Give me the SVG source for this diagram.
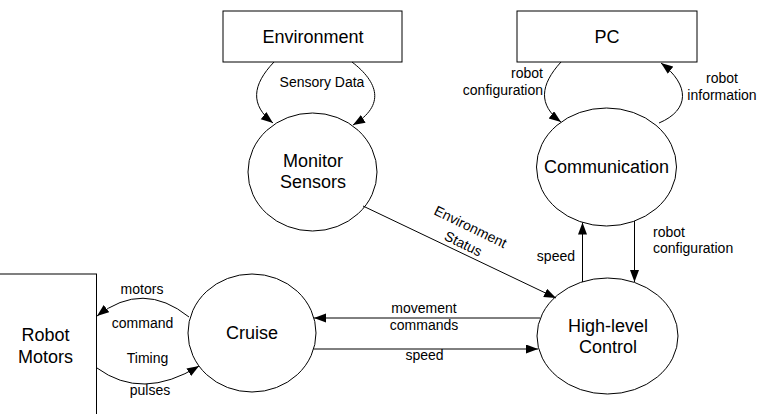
<svg xmlns="http://www.w3.org/2000/svg" width="760" height="414" viewBox="0 0 760 414">
<style>
.box{fill:#fff;stroke:#000;stroke-width:1}
.node{fill:#fff;stroke:#000;stroke-width:1}
.nt{font-family:"Liberation Sans",Arial,sans-serif;font-size:18px;fill:#000;text-anchor:middle}
.lb{font-family:"Liberation Sans",Arial,sans-serif;font-size:14px;fill:#000}
.c{fill:none;stroke:#000;stroke-width:1;marker-end:url(#ah)}
</style>
<defs>
<marker id="ah" markerUnits="userSpaceOnUse" markerWidth="13" markerHeight="10" refX="12" refY="4.5" orient="auto">
<path d="M0,0 L12,4.5 L0,9 z" fill="#000"/>
</marker>
</defs>
<rect width="760" height="414" fill="#fff"/>
<g id="environment">
<rect class="box" x="223" y="11" width="179" height="51"/>
<text class="nt" x="313" y="43">Environment</text>
</g>
<g id="pc">
<rect class="box" x="517" y="11" width="180" height="51"/>
<text class="nt" x="607" y="43">PC</text>
</g>
<g id="monitor-sensors">
<ellipse class="node" cx="312.5" cy="172" rx="64.5" ry="59"/>
<text class="nt" x="313" y="167">Monitor</text>
<text class="nt" x="313" y="188">Sensors</text>
</g>
<g id="communication">
<ellipse class="node" cx="606.5" cy="167" rx="70" ry="59"/>
<text class="nt" x="606.5" y="173">Communication</text>
</g>
<g id="high-level-control">
<ellipse class="node" cx="607.5" cy="336" rx="70.5" ry="58"/>
<text class="nt" x="608" y="332">High-level</text>
<text class="nt" x="608" y="353">Control</text>
</g>
<g id="cruise">
<ellipse class="node" cx="252" cy="333" rx="64" ry="59"/>
<text class="nt" x="252" y="339">Cruise</text>
</g>
<g id="robot-motors">
<rect class="box" x="-10" y="274" width="106.5" height="160"/>
<text class="nt" x="45.5" y="341">Robot</text>
<text class="nt" x="45.5" y="363">Motors</text>
</g>
<g id="connectors">
<path class="c" d="M274,62 C252,85 250,105 273,123"/>
<path class="c" d="M352,62 C378,82 386,105 353,125"/>
<path class="c" d="M561,62 C540,85 538,105 561,122"/>
<path class="c" d="M659,123 C690,110 690,85 661,63"/>
<path class="c" d="M363,206 L556,298"/>
<path class="c" d="M582.5,282 L582.5,222.5"/>
<path class="c" d="M634.5,221 L634.5,282"/>
<path class="c" d="M540,318 L314,318"/>
<path class="c" d="M313.5,349 L538,349"/>
<path class="c" d="M189,317 Q143,280 97,316"/>
<path class="c" d="M97,368 Q142,401 199,366"/>
<text class="lb" x="322" y="87" text-anchor="middle">Sensory Data</text>
<text class="lb" x="543" y="78" text-anchor="end">robot</text>
<text class="lb" x="543" y="95" text-anchor="end">configuration</text>
<text class="lb" x="722" y="83" text-anchor="middle">robot</text>
<text class="lb" x="722" y="100" text-anchor="middle">information</text>
<g transform="translate(465,238) rotate(26)">
<text class="lb" x="0" y="-7.6" text-anchor="middle">Environment</text>
<text class="lb" x="1" y="10.7" text-anchor="middle">Status</text>
</g>
<text class="lb" x="575" y="261" text-anchor="end">speed</text>
<text class="lb" x="653" y="237">robot</text>
<text class="lb" x="653" y="253">configuration</text>
<text class="lb" x="424" y="313" text-anchor="middle">movement</text>
<text class="lb" x="424" y="330" text-anchor="middle">commands</text>
<text class="lb" x="424.5" y="360" text-anchor="middle">speed</text>
<text class="lb" x="142" y="294" text-anchor="middle">motors</text>
<text class="lb" x="142.5" y="328" text-anchor="middle">command</text>
<text class="lb" x="147.5" y="363" text-anchor="middle">Timing</text>
<text class="lb" x="150" y="395" text-anchor="middle">pulses</text>
</g>
</svg>
